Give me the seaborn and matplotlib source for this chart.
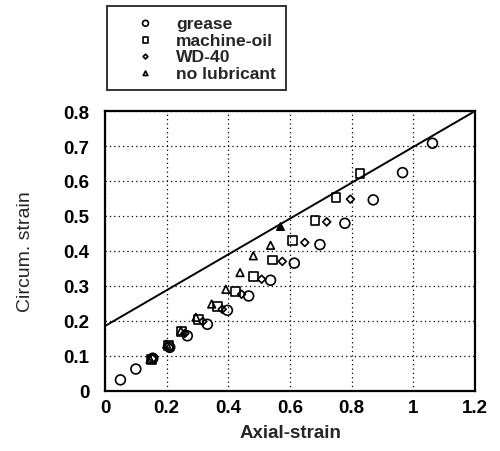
import matplotlib
matplotlib.use("Agg")
import matplotlib.pyplot as plt
import seaborn as sns
import pandas as pd

sns.set_theme(style="white")
plt.rcParams['font.family'] = ['Liberation Sans', 'DejaVu Sans']

# ---- data ----
grease_x = [0.05, 0.10, 0.155, 0.21, 0.267, 0.332, 0.397, 0.466, 0.537, 0.614, 0.697, 0.778, 0.87, 0.965, 1.062]
grease_y = [0.031, 0.062, 0.093, 0.124, 0.157, 0.19, 0.23, 0.271, 0.316, 0.365, 0.418, 0.479, 0.546, 0.624, 0.708]

oil_x = [0.15, 0.205, 0.248, 0.303, 0.364, 0.423, 0.481, 0.544, 0.608, 0.681, 0.749, 0.827]
oil_y = [0.09, 0.13, 0.169, 0.203, 0.241, 0.283, 0.327, 0.374, 0.43, 0.486, 0.553, 0.621]

wd_x = [0.155, 0.21, 0.259, 0.317, 0.38, 0.443, 0.508, 0.575, 0.648, 0.719, 0.796]
wd_y = [0.092, 0.124, 0.164, 0.198, 0.233, 0.276, 0.319, 0.37, 0.424, 0.483, 0.548]

nolub_x = [0.146, 0.2, 0.246, 0.295, 0.346, 0.392, 0.438, 0.481, 0.537]
nolub_y = [0.09, 0.133, 0.171, 0.21, 0.248, 0.29, 0.338, 0.386, 0.416]

nolub_end_x = [0.567]
nolub_end_y = [0.472]

limit_x = [0.0, 1.2]
limit_y = [0.185, 0.80]

labels = ["grease", "machine-oil", "WD-40", "no lubricant"]
x_ticks = [0, 0.2, 0.4, 0.6, 0.8, 1, 1.2]
x_ticklabels = ["0", "0.2", "0.4", "0.6", "0.8", "1", "1.2"]
y_ticks = [0, 0.1, 0.2, 0.3, 0.4, 0.5, 0.6, 0.7, 0.8]
y_ticklabels = ["0", "0.1", "0.2", "0.3", "0.4", "0.5", "0.6", "0.7", "0.8"]

fig = plt.figure(figsize=(5.0, 4.52), dpi=100)
ax = fig.add_axes([0.21, 0.1334, 0.74, 0.6186])

series = [
    (grease_x, grease_y, "o", 50),
    (oil_x, oil_y, "s", 40),
    (wd_x, wd_y, "D", 16),
    (nolub_x, nolub_y, "^", 30),
]
for (xs, ys, m, s), lab in zip(series, labels):
    df = pd.DataFrame({"x": xs, "y": ys})
    sns.scatterplot(data=df, x="x", y="y", marker=m, s=s, facecolor="none",
                    edgecolor="black", linewidth=1.2, ax=ax, label=lab, zorder=3)

dfe = pd.DataFrame({"x": nolub_end_x, "y": nolub_end_y})
sns.scatterplot(data=dfe, x="x", y="y", marker="^", s=30, facecolor="black",
                edgecolor="black", linewidth=1.0, ax=ax, zorder=4, legend=False)

dfl = pd.DataFrame({"x": limit_x, "y": limit_y})
sns.lineplot(data=dfl, x="x", y="y", color="black", linewidth=1.4, ax=ax, zorder=2)

ax.set_xlim(0, 1.2)
ax.set_ylim(0, 0.8)
ax.set_xticks(x_ticks)
ax.set_xticklabels(x_ticklabels)
ax.set_yticks(y_ticks)
ax.set_yticklabels(y_ticklabels)
ax.tick_params(axis="both", direction="in", length=7, width=1.5, labelsize=13.5,
               colors="black")
ax.tick_params(axis="x", pad=6)
ax.tick_params(axis="y", pad=11)
for lab in ax.get_xticklabels() + ax.get_yticklabels():
    lab.set_fontweight("bold")
ax.grid(True, color="black", linestyle=(0, (1, 2.5)), linewidth=0.9)
for sp in ax.spines.values():
    sp.set_visible(True)
    sp.set_color("black")
    sp.set_linewidth(1.6)

ax.set_xlabel("Axial-strain", fontsize=13.5, fontweight="bold", labelpad=6)
ax.set_ylabel("Circum. strain", fontsize=14, fontweight="normal", labelpad=21)

handles, labs = ax.get_legend_handles_labels()
ax.get_legend().remove()
leg = fig.legend(handles[:4], labs[:4], loc="upper left",
                 bbox_to_anchor=(0.214, 0.9845), bbox_transform=fig.transFigure,
                 frameon=True, fancybox=False, fontsize=12.6, handletextpad=0.1,
                 borderpad=0.55, labelspacing=0.08, handlelength=3.3,
                 borderaxespad=0, markerscale=0.6)
leg.get_frame().set_edgecolor("black")
leg.get_frame().set_linewidth(1.4)
for t in leg.get_texts():
    t.set_fontweight("bold")

fig.savefig("out.png", dpi=100)
